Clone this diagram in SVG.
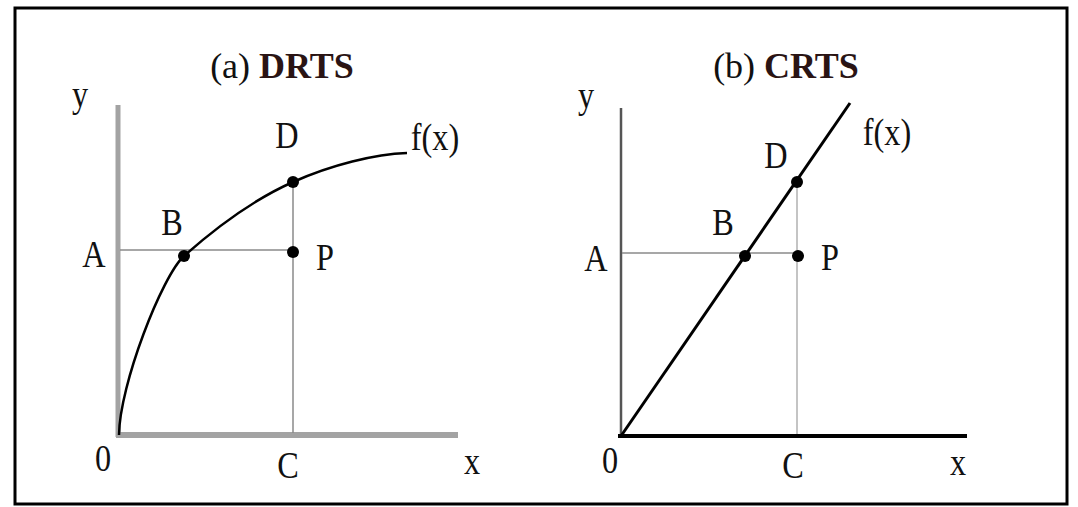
<svg xmlns="http://www.w3.org/2000/svg" width="1078" height="507" viewBox="0 0 1078 507">
<style>
.lbl{font-family:"Liberation Serif","Times New Roman",serif;font-size:38px;fill:#111;text-anchor:middle}
.ttl{font-family:"Liberation Serif","Times New Roman",serif;font-size:36px;fill:#111;text-anchor:middle}
.b{font-weight:bold;fill:#2a1414}
.guide{stroke:#8a8a8a;stroke-width:1.5;fill:none}
.guide2{stroke:#c4c4c4;stroke-width:2;fill:none}
.dot{fill:#000}
</style>
<rect x="0" y="0" width="1078" height="507" fill="#fff"/>
<rect x="15" y="8" width="1052" height="496" fill="none" stroke="#000" stroke-width="3"/>

<g id="panel-a">
  <g id="axes-a">
    <line x1="118" y1="105" x2="118" y2="437" stroke="#a3a3a3" stroke-width="5"/>
    <line x1="116" y1="435" x2="458" y2="435" stroke="#a3a3a3" stroke-width="6"/>
  </g>
  <g id="connectors-a">
    <line class="guide" x1="120" y1="250" x2="293" y2="250"/>
    <line class="guide" x1="293" y1="182" x2="293" y2="433"/>
    <path d="M119,435 C119.5,385 162,276 184,256 C220,224 257,198 293,182 C331,165 375,154 407,153" fill="none" stroke="#000" stroke-width="2.5"/>
  </g>
  <g id="points-a">
    <circle class="dot" cx="184" cy="256" r="6"/>
    <circle class="dot" cx="293" cy="182" r="6"/>
    <circle class="dot" cx="293" cy="252" r="6"/>
  </g>
  <g id="labels-a">
    <text class="ttl" x="282" y="78">(a) <tspan class="b">DRTS</tspan></text>
    <text class="lbl" transform="translate(80,107) scale(0.85,1)">y</text>
    <text class="lbl" transform="translate(287,148) scale(0.85,1)">D</text>
    <text class="lbl" transform="translate(435,150) scale(0.85,1)">f(x)</text>
    <text class="lbl" transform="translate(172,235) scale(0.85,1)">B</text>
    <text class="lbl" transform="translate(94,267) scale(0.85,1)">A</text>
    <text class="lbl" transform="translate(325,270) scale(0.85,1)">P</text>
    <text class="lbl" transform="translate(103,471) scale(0.85,1)">0</text>
    <text class="lbl" transform="translate(288,478) scale(0.85,1)">C</text>
    <text class="lbl" transform="translate(472,474) scale(0.85,1)">x</text>
  </g>
</g>

<g id="panel-b">
  <g id="axes-b">
    <line x1="621" y1="108" x2="621" y2="437" stroke="#555" stroke-width="2.5"/>
    <line x1="618" y1="436" x2="967" y2="436" stroke="#000" stroke-width="4"/>
  </g>
  <g id="connectors-b">
    <line class="guide" x1="622" y1="253" x2="797" y2="253"/>
    <line class="guide2" x1="797" y1="182" x2="797" y2="434"/>
    <line x1="621" y1="436" x2="850" y2="103" stroke="#000" stroke-width="3"/>
  </g>
  <g id="points-b">
    <circle class="dot" cx="745" cy="256" r="6"/>
    <circle class="dot" cx="797" cy="182" r="6"/>
    <circle class="dot" cx="798" cy="256" r="6"/>
  </g>
  <g id="labels-b">
    <text class="ttl" x="786" y="78">(b) <tspan class="b">CRTS</tspan></text>
    <text class="lbl" transform="translate(586,108) scale(0.85,1)">y</text>
    <text class="lbl" transform="translate(776,168) scale(0.85,1)">D</text>
    <text class="lbl" transform="translate(887,145) scale(0.85,1)">f(x)</text>
    <text class="lbl" transform="translate(723,235) scale(0.85,1)">B</text>
    <text class="lbl" transform="translate(596,271) scale(0.85,1)">A</text>
    <text class="lbl" transform="translate(830,270) scale(0.85,1)">P</text>
    <text class="lbl" transform="translate(610,473) scale(0.85,1)">0</text>
    <text class="lbl" transform="translate(793,478) scale(0.85,1)">C</text>
    <text class="lbl" transform="translate(958,475) scale(0.85,1)">x</text>
  </g>
</g>
</svg>
